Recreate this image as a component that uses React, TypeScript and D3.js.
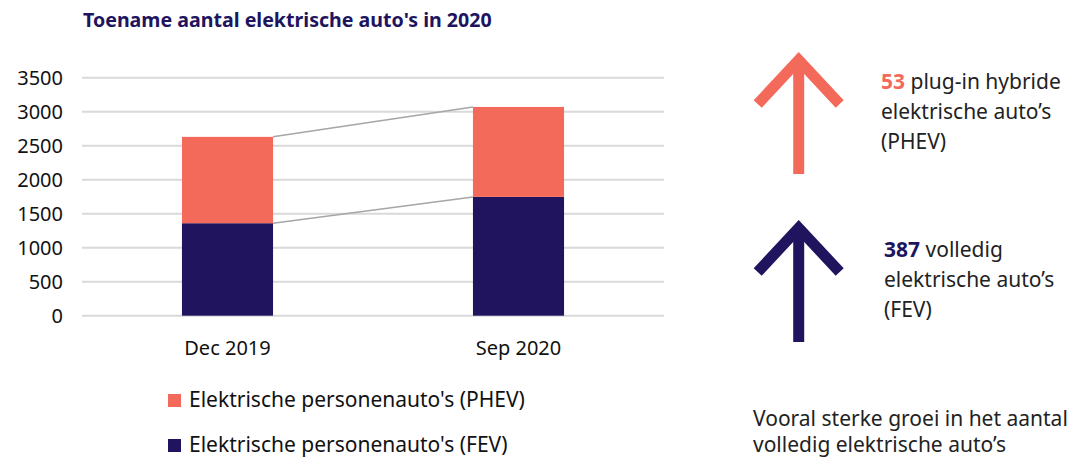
import React from "react";
import * as d3 from "d3";

const title = "Toename aantal elektrische auto's in 2020";
const categories = ["Dec 2019", "Sep 2020"];
const fevValues = [1360, 1747];
const phevValues = [1270, 1323];
const yTicks = [0, 500, 1000, 1500, 2000, 2500, 3000, 3500];
const legendLabels = ["Elektrische personenauto's (PHEV)", "Elektrische personenauto's (FEV)"];
const phevIncrease = 53;
const fevIncrease = 387;
const phevNote = [" plug-in hybride", "elektrische auto\u2019s", "(PHEV)"];
const fevNote = [" volledig", "elektrische auto\u2019s", "(FEV)"];
const footNote = ["Vooral sterke groei in het aantal", "volledig elektrische auto\u2019s"];

const NAVY = "#21145f";
const SALMON = "#f36a5b";
const FONT = "'Noto Sans', Lato, sans-serif";

export default function App() {
  const W = 1084, H = 460;
  const left = 82, right = 664, top = 77.7, bottom = 315.7;
  const x = d3.scaleBand<string>().domain(categories).range([left, right]).paddingInner(0.687).paddingOuter(0.3435);
  const y = d3.scaleLinear().domain([0, 3500]).range([bottom, top]);
  const bw = x.bandwidth();

  const stacks = categories.map((c, i) => ({
    c,
    x0: x(c)!,
    fev: fevValues[i],
    total: fevValues[i] + phevValues[i],
  }));

  const arrow = (cx: number, vy: number, color: string) => {
    const arm = 41;
    const len = 114;
    return (
      <g stroke={color} strokeWidth={11} fill="none">
        <line x1={cx} y1={vy - 2} x2={cx} y2={vy + len} strokeLinecap="butt" />
        <polyline points={`${cx - arm},${vy + arm + 3} ${cx},${vy} ${cx + arm},${vy + arm + 3}`} strokeLinejoin="miter" strokeLinecap="butt" />
      </g>
    );
  };

  return (
    <svg width={W} height={H} style={{ position: "absolute", left: 0, top: 0 }} fontFamily={FONT}>
      <rect width={W} height={H} fill="#fff" />
      <text x={83} y={27} fontSize={19.6} fontWeight={700} fill={NAVY}>{title}</text>

      {yTicks.map((t) => (
        <g key={t}>
          <line x1={left} x2={right} y1={y(t)} y2={y(t)} stroke="#d9d9d9" strokeWidth={2} />
          <text x={63} y={y(t)} dy="0.36em" textAnchor="end" fontSize={20} fill="#111">{t}</text>
        </g>
      ))}

      {stacks.map((s) => (
        <g key={s.c}>
          <rect x={s.x0} width={bw} y={y(s.fev)} height={y(0) - y(s.fev)} fill={NAVY} />
          <rect x={s.x0} width={bw} y={y(s.total)} height={y(s.fev) - y(s.total)} fill={SALMON} />
          <text x={s.x0 + bw / 2} y={355} textAnchor="middle" fontSize={20} fill="#111">{s.c}</text>
        </g>
      ))}

      <line x1={stacks[0].x0 + bw} y1={y(stacks[0].total)} x2={stacks[1].x0} y2={y(stacks[1].total)} stroke="#a6a6a6" strokeWidth={1.5} />
      <line x1={stacks[0].x0 + bw} y1={y(stacks[0].fev)} x2={stacks[1].x0} y2={y(stacks[1].fev)} stroke="#a6a6a6" strokeWidth={1.5} />

      {legendLabels.map((l, i) => (
        <g key={l}>
          <rect x={168} y={394 + i * 45} width={13} height={13} fill={i === 0 ? SALMON : NAVY} />
          <text x={189} y={407 + i * 45} fontSize={21} fill="#111">{l}</text>
        </g>
      ))}

      {arrow(798.7, 60, SALMON)}
      {arrow(798.7, 228, NAVY)}

      <text fontSize={21} fill="#222">
        <tspan x={881} y={89}><tspan fill={SALMON} fontWeight={700}>{phevIncrease}</tspan>{phevNote[0]}</tspan>
        <tspan x={881} y={119}>{phevNote[1]}</tspan>
        <tspan x={881} y={149}>{phevNote[2]}</tspan>
      </text>
      <text fontSize={21} fill="#222">
        <tspan x={884} y={257}><tspan fill={NAVY} fontWeight={700}>{fevIncrease}</tspan>{fevNote[0]}</tspan>
        <tspan x={884} y={287}>{fevNote[1]}</tspan>
        <tspan x={884} y={317}>{fevNote[2]}</tspan>
      </text>
      <text fontSize={21} fill="#222">
        <tspan x={753} y={426}>{footNote[0]}</tspan>
        <tspan x={753} y={452}>{footNote[1]}</tspan>
      </text>
    </svg>
  );
}
